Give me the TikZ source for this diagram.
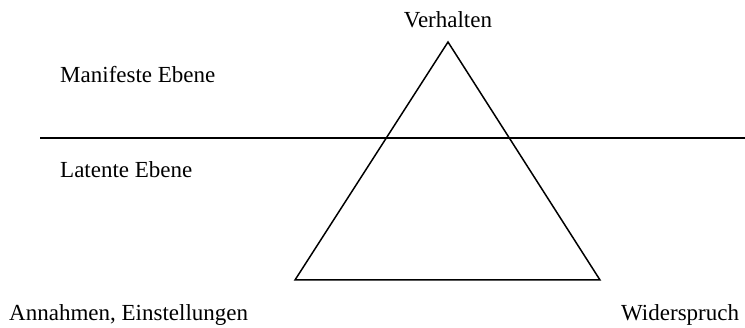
\documentclass[tikz,border=0pt]{standalone}
\usepackage{fontspec}
\setmainfont{Liberation Serif}
\begin{document}
\begin{tikzpicture}[x=1pt,y=-1pt,
  lbl/.style={inner sep=0pt,font=\fontsize{23}{28}\selectfont},
  ln/.style={line width=1.5pt,line join=miter}]
\useasboundingbox (0,0) rectangle (745,328);
\coordinate (apex) at (448,42);
\coordinate (bl) at (295,280);
\coordinate (br) at (600,280);
\coordinate (h1) at (40,138);
\coordinate (h2) at (745,138);
\draw[ln] (apex) -- (bl) -- (br) -- cycle;
\draw[ln] (h1) -- (h2);
\node[lbl,anchor=base] (verh) at (448,28) {Verhalten};
\node[lbl,anchor=base west] (man) at (60,83) {Manifeste Ebene};
\node[lbl,anchor=base west] (lat) at (60,178) {Latente Ebene};
\node[lbl,anchor=base west] (ann) at (9,321) {Annahmen, Einstellungen};
\node[lbl,anchor=base west] (wid) at (621,321) {Widerspruch};
\end{tikzpicture}
\end{document}
